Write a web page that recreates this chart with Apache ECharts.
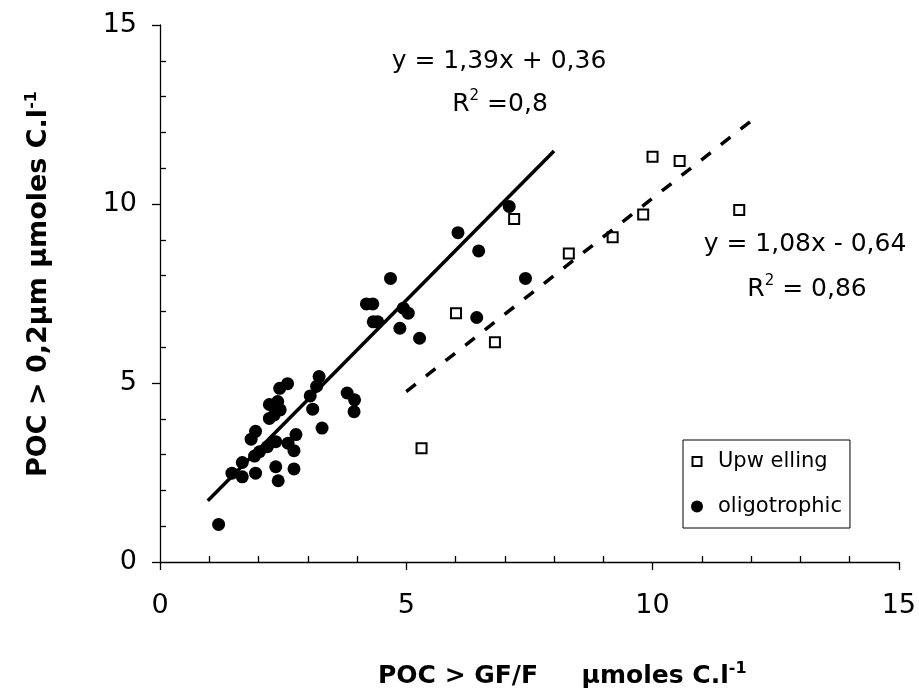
<!DOCTYPE html>
<html><head><meta charset="utf-8">
<script src="https://cdn.jsdelivr.net/npm/echarts@6/dist/echarts.min.js"></script>
<style>html,body{margin:0;padding:0;background:#fff}#c{width:919px;height:695px}</style>
</head><body><div id="c"></div><script>
// ---- data ----
const oligotrophic = [
  [1.19,1.05],[1.46,2.48],[1.67,2.38],[1.67,2.78],[1.94,2.48],[1.92,2.96],
  [2.02,3.08],[2.18,3.22],[2.35,3.36],[2.60,3.32],[2.76,3.56],[2.72,3.11],
  [2.35,2.66],[2.40,2.27],[2.72,2.60],[1.85,3.43],[1.94,3.65],[2.22,4.01],
  [2.32,4.11],[2.22,4.40],[2.39,4.48],[2.44,4.25],[2.43,4.85],[2.59,4.98],
  [3.05,4.64],[3.10,4.27],[3.18,4.91],[3.23,5.18],[3.29,3.74],[3.80,4.72],
  [3.95,4.53],[3.94,4.20],[4.19,7.21],[4.32,7.21],[4.33,6.71],[4.42,6.71],
  [4.68,7.92],[4.94,7.09],[5.04,6.95],[4.87,6.53],[5.27,6.25],[6.05,9.20],
  [6.47,8.69],[7.09,9.93],[7.42,7.92],[6.43,6.83]
];
const upwelling = [
  [5.31,3.18],[6.01,6.95],[6.80,6.14],[7.19,9.58],[8.30,8.62],
  [9.19,9.07],[9.81,9.71],[10.00,11.32],[10.55,11.20],[11.76,9.83]
];
const seriesNames = ['Upw elling', 'oligotrophic'];
const fitOligo = [1.39, 0.36];      // slope, intercept
const fitOligoRange = [0.97, 8.0];  // x extent of trendline
const fitUpw = [1.08, -0.64];
const fitUpwRange = [5.0, 12.05];
const eqOligo = ['y = 1,39x + 0,36', 'R{sup|2} =0,8'];
const eqUpw = ['y = 1,08x - 0,64', 'R{sup|2} = 0,86'];
const xAxisTicks = [0, 15, 5];      // min, max, interval
const yAxisTicks = [0, 15, 5];
const xTitle = 'POC > GF/F     µmoles C.l{sup|-1}';
const yTitle = 'POC > 0,2µm µmoles C.l{sup|-1}';

const FONT = 'DejaVu Sans';
const line = (f, r) => r.map(x => [x, f[0] * x + f[1]]);

const axisCommon = (t, labelMargin) => ({
  type: 'value', min: t[0], max: t[1], interval: t[2],
  axisLine: {show: true, lineStyle: {color: '#000', width: 1.3}},
  axisTick: {show: true, length: 8, lineStyle: {color: '#000', width: 1.3}},
  minorTick: {show: true, splitNumber: 5, length: -6, lineStyle: {color: '#000', width: 1.3}},
  splitLine: {show: false}, minorSplitLine: {show: false},
  axisLabel: {fontSize: 27, fontFamily: FONT, color: '#000', margin: labelMargin}
});

const richSup = (size, bold) => ({
  sup: {fontSize: size, fontFamily: FONT, fontWeight: bold ? 'bold' : 'normal',
        fill: '#000', verticalAlign: 'top', lineHeight: 14}
});

const txt = (text, x, y, size, opts = {}) => ({
  type: 'text', x, y, rotation: opts.rotation || 0, z: 10,
  style: {
    text, fill: '#000', fontSize: size, fontFamily: FONT,
    fontWeight: opts.bold ? 'bold' : 'normal', lineHeight: 30,
    align: opts.align || 'center', verticalAlign: 'middle',
    rich: richSup(opts.supSize || 15, opts.bold)
  }
});

const chart = echarts.init(document.getElementById('c'), null, {renderer: 'canvas'});
chart.setOption({
  animation: false,
  backgroundColor: '#fff',
  grid: {left: 160, right: 20, top: 25, bottom: 133},
  xAxis: axisCommon(xAxisTicks, 30),
  yAxis: axisCommon(yAxisTicks, 23),
  legend: {
    orient: 'vertical', left: 683, top: 440,
    data: [
      {name: seriesNames[0], icon: 'path://M0,0L0,0M1.5,1.5h9v9h-9zM12,12L12,12'},
      {name: seriesNames[1], icon: 'circle'}
    ],
    borderColor: '#000', borderWidth: 1, padding: [11, 8, 11, 7],
    itemWidth: 12, itemHeight: 12, itemGap: 24,
    textStyle: {fontSize: 21, fontFamily: FONT, color: '#000', padding: [0, 0, 0, 10]}
  },
  series: [
    {name: seriesNames[0], type: 'scatter', data: upwelling, symbol: 'rect', symbolSize: 10, z: 2,
     itemStyle: {color: '#fff', borderColor: '#000', borderWidth: 2, opacity: 1}},
    {name: seriesNames[1], type: 'scatter', data: oligotrophic, symbol: 'circle', symbolSize: 13, z: 2,
     itemStyle: {color: '#000', opacity: 1}},
    {type: 'line', data: line(fitOligo, fitOligoRange), symbol: 'none', z: 3, silent: true,
     lineStyle: {color: '#000', width: 3.5, type: 'solid'}},
    {type: 'line', data: line(fitUpw, fitUpwRange), symbol: 'none', z: 3, silent: true,
     lineStyle: {color: '#000', width: 3.5, type: [12, 13]}}
  ],
  graphic: [
    txt(eqOligo[0], 499, 61, 25),
    txt(eqOligo[1], 500, 104, 25),
    txt(eqUpw[0], 805, 244, 25),
    txt(eqUpw[1], 807, 289, 25),
    txt(xTitle, 378, 676, 25, {bold: true, align: 'left', supSize: 16}),
    txt(yTitle, 39, 477, 27, {bold: true, align: 'left', supSize: 16, rotation: Math.PI / 2})
  ]
});
</script></body></html>
